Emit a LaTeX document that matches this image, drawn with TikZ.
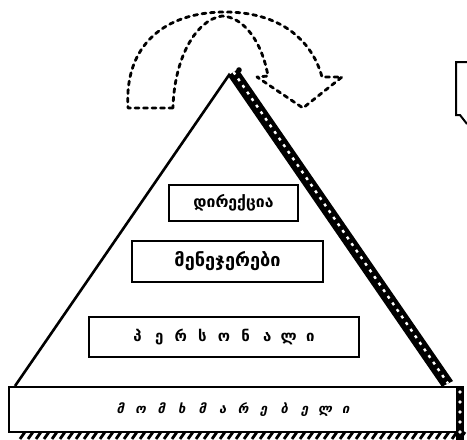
\documentclass[tikz,border=0pt]{standalone}
\usepackage{fontspec}
\newfontfamily\geo{DejaVu Sans}
\usetikzlibrary{calc}
\newlength\ltw
\newcommand\lt[1]{\makebox[\ltw]{#1}}
\begin{document}
\begin{tikzpicture}[x=1pt,y=-1pt,
  lvl/.style={draw, line width=2pt, inner sep=0pt, anchor=north west, fill=white},
  dashedarrow/.style={line width=2.8pt, dash pattern=on 4pt off 4.5pt, line cap=round, line join=round},
  edge/.style={line width=2.6pt}]
\useasboundingbox (0,0) rectangle (467,440);

% dashed curved arrow above the apex
\draw[dashedarrow]
  (173,108) -- (128,108)
  .. controls (124,45) and (165,12) .. (225,12)
  .. controls (280,12) and (312,40) .. (322,77)
  -- (342,77) -- (303,108) -- (257,77) -- (268,76)
  .. controls (262,42) and (244,17) .. (222,16)
  .. controls (195,20) and (174,60) .. (173,108);

% hatched shadow along the right side
\coordinate (apex) at (229,75);
\coordinate (bl) at (15,386);
\coordinate (br) at (443,386);
\fill (apex) -- (br) -- (453,381) -- (238,69) -- cycle;
\draw[white, line width=2.4pt, dash pattern=on 3pt off 5pt]
  ($(apex)!0.5!(238,69)$) -- ($(br)!0.5!(453,381)$);
% hatched band under the base
\foreach \x in {20,28,...,462} \draw[line width=2.8pt] (\x,439) -- (\x+5,432);
\fill (456,386) rectangle (464,440);
\foreach \y in {392,402,...,432} \fill[white] (460,\y) circle (1.8pt);

% triangle
\draw[edge, line join=miter] (bl) -- (apex) -- (br);
\fill (239,70) circle (2.8pt);

% levels
\node[lvl, minimum width=129pt, minimum height=36pt, font=\geo\bfseries] (dir) at (168,184)
  {\resizebox{80pt}{!}{დირექცია}};
\node[lvl, minimum width=191pt, minimum height=41pt, font=\geo\bfseries] (man) at (131,240)
  {\resizebox{106pt}{!}{მენეჯერები}};
\node[lvl, minimum width=270pt, minimum height=40pt,
  font={\geo\bfseries\fontsize{15}{15}\selectfont\setlength\ltw{11pt}\spaceskip=10.6pt\relax}] (per) at (88,316)
  {\lt{პ} \lt{ე} \lt{რ} \lt{ს} \lt{ო} \lt{ნ} \lt{ა} \lt{ლ} \lt{ი}};
\node[lvl, minimum width=448pt, minimum height=45pt,
  font={\geo\bfseries\itshape\fontsize{13}{13}\selectfont\setlength\ltw{9pt}\spaceskip=11.5pt\relax}] (cus) at (8,386)
  {\lt{მ} \lt{ო} \lt{მ} \lt{ხ} \lt{მ} \lt{ა} \lt{რ} \lt{ე} \lt{ბ} \lt{ე} \lt{ლ} \lt{ი}};

% speech bubble (cut by the right edge)
\draw[line width=2pt] (470,62) -- (456,62) -- (456,115) -- (460,115) -- (467,124);
\end{tikzpicture}
\end{document}
